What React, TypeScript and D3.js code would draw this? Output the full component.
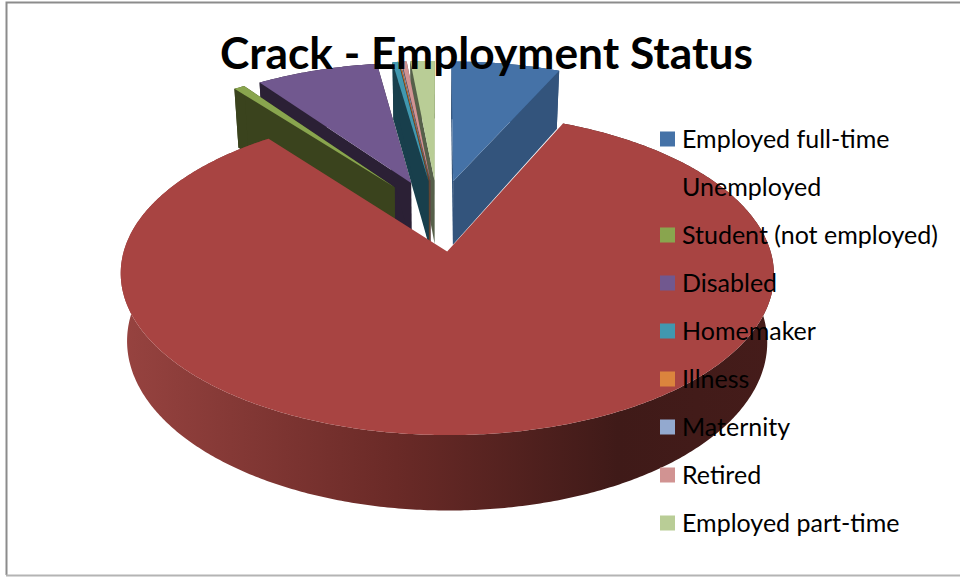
import React from "react";
import * as d3 from "d3";

const categories = ["Employed full-time","Unemployed","Student (not employed)","Disabled","Homemaker","Illness","Maternity","Retired","Employed part-time"];
const shares = [6.67,82.8,0.67,7.5,0.36,0.05,0.05,0.3,1.5];
const topColors = ["#4572a7","#a84442","#89a54e","#71588f","#4198af","#db843d","#93a9cf","#d19392","#b9cd96"];
const sideColors = ["#33547c","#7a2f2c","#3a431d","#2b2035","#183f4c","#6b4020","#4a5566","#5f4544","#56604a"];
const drawOrder = [8,7,6,5,4,3,2,0,1];
const TITLE = "Crack - Employment Status";

const W = 960, H = 577;
const cx = 438, K = 313, D = 7.4, E = 0.24;
const top = (X:number,Y:number):[number,number] => { const s=1/(1+Y/D); return [cx+K*X*s, 215-148*Y*s]; };
const bot = (X:number,Y:number):[number,number] => { const s=1/(1+Y/D); return [cx+0.98*K*X*s, 280-155*Y*s]; };
const line = d3.line<[number,number]>().curve(d3.curveLinear);
const legendY = d3.scalePoint<string>().domain(categories).range([139,523]);
const arcs = d3.pie<number>().sort(null)(shares);

function sliceParts(i:number){
  const a = arcs[i];
  const mid = (a.startAngle+a.endAngle)/2;
  const ox = E*Math.sin(mid), oy = E*Math.cos(mid);
  const R = i===1 ? 1 : 0.972;
  const P = (t:number,r=R):[number,number] => [ox+r*Math.sin(t), oy+r*Math.cos(t)];
  const n = Math.max(2, Math.ceil((a.endAngle-a.startAngle)/0.01));
  const ts = d3.range(n+1).map(k => a.startAngle+(a.endAngle-a.startAngle)*k/n);
  const apexT = top(...P(0,0)), apexB = bot(...P(0,0));
  const topArc = ts.map(t => top(...P(t)));
  const botArc = ts.map(t => bot(...P(t)));
  return {
    top: line([apexT,...topArc])+"Z",
    wall: line([...topArc,...botArc.slice().reverse()])+"Z",
    faceA: line([apexT,topArc[0],botArc[0],apexB])+"Z",
    faceB: line([apexT,topArc[n],botArc[n],apexB])+"Z",
  };
}

export default function App(){
  return (
    <svg width={W} height={H} viewBox={`0 0 ${W} ${H}`} style={{position:"absolute",left:0,top:0,display:"block",background:"#fff"}}>
      <defs>
        <linearGradient id="redWall" gradientUnits="userSpaceOnUse" x1="121" x2="775" y1="0" y2="0">
          <stop offset="0" stopColor="#974340"/>
          <stop offset="0.42" stopColor="#6a2a27"/>
          <stop offset="0.76" stopColor="#3f1a18"/>
          <stop offset="1" stopColor="#451c1a"/>
        </linearGradient>
      </defs>
      <path d={`M${W},2.5H6.5V575`} fill="none" stroke="#8c8c8c" strokeWidth={2}/>
      <path d={`M6,575.5H${W}`} fill="none" stroke="#b4b4b4" strokeWidth={2}/>
      {drawOrder.map(i => {
        const p = sliceParts(i);
        const side = i===1 ? "url(#redWall)" : sideColors[i];
        return (
          <g key={categories[i]}>
            <path d={p.wall} fill={side}/>
            {i!==1 && <path d={p.faceA} fill={side}/>}
            {i!==1 && <path d={p.faceB} fill={side}/>}
            <path d={p.top} fill={topColors[i]}/>
          </g>
        );
      })}
      <text x={486.5} y={69} textAnchor="middle" fontFamily="Lato" fontWeight={700} fontSize={44.3} fill="#000">{TITLE}</text>
      {categories.map((c,i) => (
        <g key={c}>
          <rect x={660} y={legendY(c)!-7.5} width={15} height={15} fill={topColors[i]}/>
          <text x={682} y={legendY(c)!+9} fontFamily="Lato" fontSize={25} fill="#000">{c}</text>
        </g>
      ))}
    </svg>
  );
}
